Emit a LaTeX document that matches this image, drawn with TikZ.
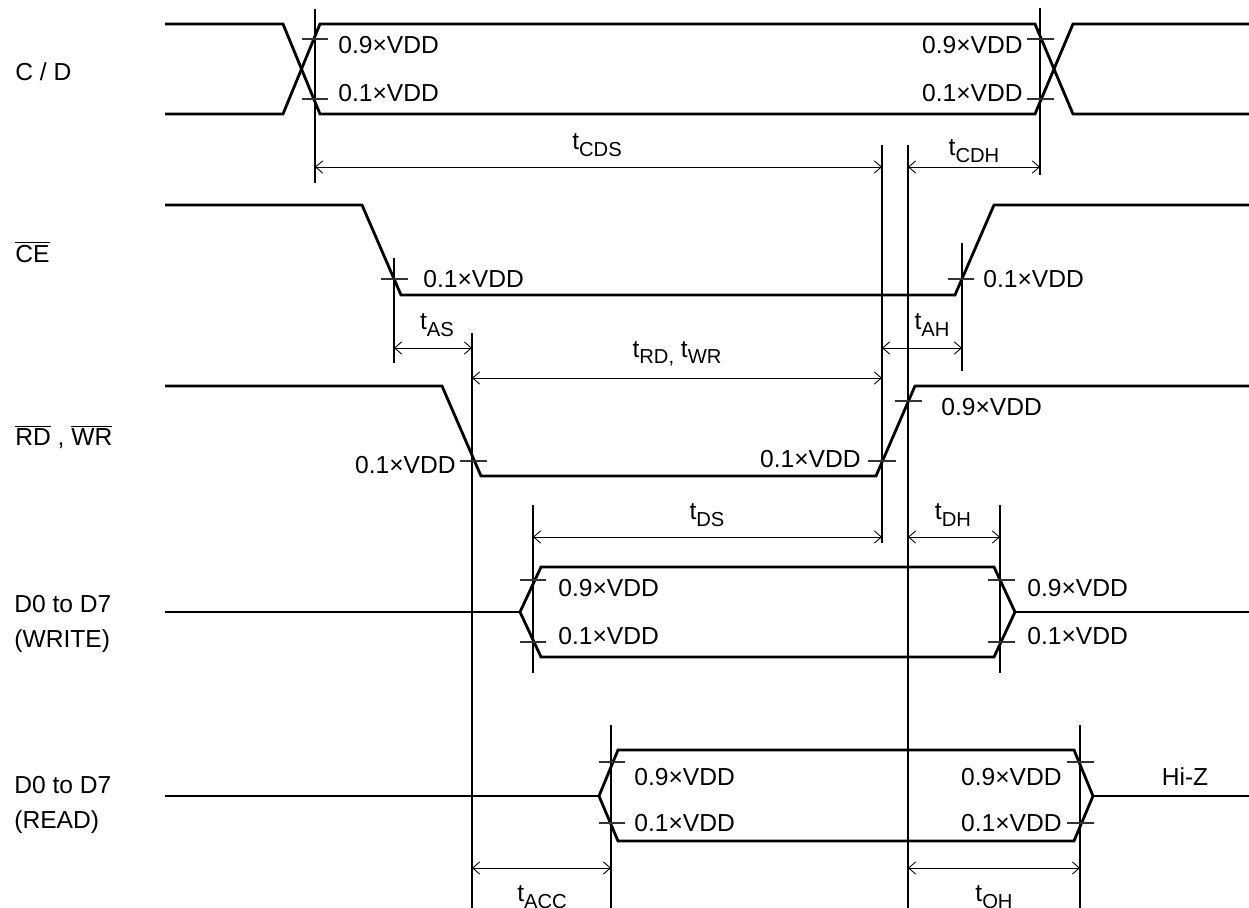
\documentclass[tikz,border=0pt]{standalone}
\usepackage{fontspec}
\setmainfont{Liberation Sans}
\usetikzlibrary{arrows,arrows.meta}
\newcommand\tsub[1]{\raisebox{-0.5ex}{\fontsize{11.5}{11.5}\selectfont#1}}

\begin{document}
\begin{tikzpicture}[line join=miter,>={Straight Barb[length=4pt,width=7pt]},x=0.02cm,y=-0.02cm,
    sig/.style={line width=1.6pt},
    guide/.style={line width=0.8pt},
    tickmark/.style={line width=0.8pt,black!80},
    dim/.style={<->,line width=0.5pt},
    txt/.style={inner sep=0pt,font=\fontsize{14}{19.8}\selectfont}]
  \useasboundingbox (0,0) rectangle (1249,908);

  % signal names
  \node[txt,anchor=west] (cdname) at (15,72) {C / D};
  \node[txt,anchor=west] (cename) at (15,252) {$\overline{\mbox{CE}}$};
  \node[txt,anchor=west] (rwname) at (15,437) {$\overline{\mbox{RD}}$ , $\overline{\mbox{WR}}$};
  \node[txt,anchor=west,align=left] (wrname) at (14,624) {D0 to D7\\(WRITE)};
  \node[txt,anchor=west,align=left] (rdname) at (14,805) {D0 to D7\\(READ)};

  % waveforms
  \draw[sig] (165,24) -- (283,24) -- (320,114) -- (1035,114) -- (1073,24) -- (1249,24);
  \draw[sig] (165,114) -- (283,114) -- (320,24) -- (1035,24) -- (1073,114) -- (1249,114);
  \draw[sig] (165,205) -- (362,205) -- (401,295) -- (955,295) -- (994,205) -- (1249,205);
  \draw[sig] (165,386) -- (442,386) -- (481,476) -- (876,476) -- (915,386) -- (1249,386);
  \draw[sig] (165,612) -- (520,612);
  \draw[sig] (520,612) -- (541,567) -- (994,567) -- (1015,612) -- (994,657) -- (541,657) -- cycle;
  \draw[sig] (1015,612) -- (1249,612);
  \draw[sig] (165,796) -- (599,796);
  \draw[sig] (599,796) -- (618,750) -- (1074,750) -- (1093,796) -- (1074,841) -- (618,841) -- cycle;
  \draw[sig] (1093,796) -- (1249,796);

  % reference lines
  \foreach \x/\a/\b in {315/9/183,1040/8/175,882/145/543,908/145/908,394/258/363,
                        962/243/371,472/333/908,533/505/673,1000/505/673,611/725/908,1080/725/908}{
    \draw[guide] (\x,\a) -- (\x,\b);
  }

  % level marks
  \foreach \a/\b/\y in {302/328/39,302/328/99,1027/1054/39,1027/1054/99,381/408/279,948/974/279,
                        460/487/461,868/896/461,895/922/401,520/546/580,520/546/642,988/1015/580,
                        988/1015/642,599/625/762,599/625/823,1067/1094/762,1067/1094/823}{
    \draw[tickmark] (\a,\y) -- (\b,\y);
  }

  % level labels
  \foreach \x/\y/\v [count=\i] in {338/45/0.9,338/93/0.1,423/279/0.1,983/279/0.1,941/407/0.9,
                                   558/588/0.9,558/636/0.1,1027/588/0.9,1027/636/0.1,634/777/0.9,634/823/0.1}{
    \node[txt,anchor=west] (lvlw\i) at (\x,\y) {\v×VDD};
  }
  \foreach \x/\y/\v [count=\i] in {1023/45/0.9,1023/93/0.1,456/465/0.1,861/459/0.1,1062/777/0.9,1062/823/0.1}{
    \node[txt,anchor=east] (lvle\i) at (\x,\y) {\v×VDD};
  }
  \node[txt] (hiz) at (1185,777) {Hi-Z};

  % timing
  \draw[dim] (315,167) -- (882,167);
  \draw[dim] (908,167) -- (1040,167);
  \draw[dim] (394,348) -- (472,348);
  \draw[dim] (882,348) -- (962,348);
  \draw[dim] (472,378) -- (882,378);
  \draw[dim] (533,537) -- (882,537);
  \draw[dim] (908,537) -- (1000,537);
  \draw[dim] (472,868) -- (611,868);
  \draw[dim] (908,868) -- (1080,868);

  \node[txt] (tcds) at (597,145) {t\tsub{CDS}};
  \node[txt] (tcdh) at (974,151) {t\tsub{CDH}};
  \node[txt] (tas) at (437,325) {t\tsub{AS}};
  \node[txt] (tah) at (932,325) {t\tsub{AH}};
  \node[txt] (trw) at (677,354) {t\tsub{RD,} t\tsub{WR}};
  \node[txt] (tds) at (707,515) {t\tsub{DS}};
  \node[txt] (tdh) at (953,515) {t\tsub{DH}};
  \node[txt] (tacc) at (542,897) {t\tsub{ACC}};
  \node[txt] (toh) at (994,897) {t\tsub{OH}};
\end{tikzpicture}
\end{document}
